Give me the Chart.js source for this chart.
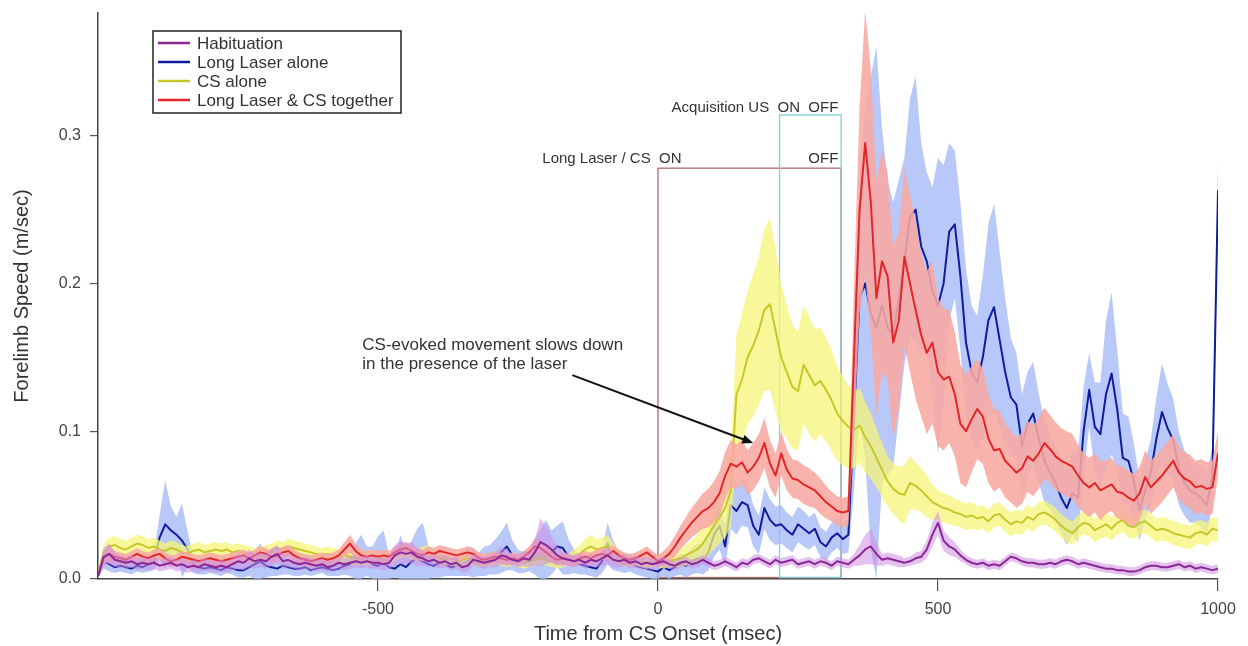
<!DOCTYPE html>
<html><head><meta charset="utf-8">
<script src="https://cdn.jsdelivr.net/npm/chart.js@4.4.1/dist/chart.umd.min.js"></script>
<style>html,body{margin:0;padding:0;background:#fff}#wrap{width:1248px;height:646px;position:relative}</style>
</head><body><div id="wrap"><canvas id="c"></canvas></div>
<script>
// ---------- DATA ----------
const seriesNames = ["Habituation", "Long Laser alone", "CS alone", "Long Laser & CS together"];
const xTickValues = [-500, 0, 500, 1000];
const yTickValues = [0, 0.1, 0.2, 0.3];
// sample times (msec), one sample every 10 ms from -1000 to 1000
const timeMs = [];
for (let t = -1000; t <= 1000; t += 10) timeMs.push(t);

const habituationMean = [
0.002,0.015,0.017,0.013,0.012,0.011,0.012,0.010,0.011,0.010,
0.011,0.009,0.010,0.011,0.009,0.010,0.008,0.009,0.008,0.010,
0.009,0.008,0.009,0.008,0.010,0.012,0.011,0.014,0.012,0.013,
0.012,0.015,0.017,0.012,0.013,0.011,0.010,0.011,0.010,0.009,
0.010,0.008,0.009,0.011,0.010,0.011,0.012,0.011,0.012,0.011,
0.011,0.010,0.011,0.016,0.018,0.017,0.018,0.015,0.014,0.012,
0.013,0.011,0.012,0.010,0.011,0.008,0.009,0.013,0.012,0.011,
0.012,0.013,0.016,0.015,0.013,0.012,0.014,0.013,0.018,0.025,
0.023,0.020,0.016,0.014,0.013,0.012,0.013,0.011,0.013,0.012,
0.014,0.016,0.013,0.012,0.013,0.011,0.012,0.010,0.011,0.010,
0.011,0.012,0.010,0.009,0.011,0.012,0.010,0.011,0.013,0.011,
0.009,0.010,0.012,0.010,0.008,0.011,0.010,0.013,0.014,0.012,
0.010,0.013,0.011,0.012,0.013,0.010,0.011,0.012,0.010,0.012,
0.011,0.009,0.012,0.011,0.010,0.013,0.016,0.020,0.022,0.017,
0.013,0.014,0.013,0.012,0.011,0.012,0.014,0.015,0.020,0.030,
0.038,0.026,0.022,0.020,0.016,0.013,0.011,0.010,0.011,0.009,
0.010,0.009,0.012,0.015,0.014,0.012,0.011,0.011,0.010,0.010,
0.011,0.010,0.012,0.013,0.012,0.010,0.011,0.010,0.009,0.008,
0.007,0.007,0.006,0.006,0.005,0.005,0.006,0.008,0.009,0.009,
0.008,0.008,0.009,0.010,0.008,0.009,0.007,0.008,0.007,0.006,
0.007];
const habituationSem = [
0.001,0.006,0.007,0.005,0.004,0.004,0.004,0.004,0.004,0.004,
0.004,0.004,0.004,0.004,0.004,0.004,0.004,0.004,0.004,0.004,
0.004,0.004,0.004,0.004,0.004,0.005,0.005,0.006,0.005,0.005,
0.005,0.006,0.006,0.005,0.005,0.004,0.004,0.004,0.004,0.004,
0.004,0.004,0.004,0.004,0.004,0.004,0.004,0.004,0.004,0.004,
0.004,0.004,0.004,0.007,0.008,0.007,0.007,0.006,0.005,0.004,
0.004,0.004,0.004,0.004,0.004,0.004,0.004,0.004,0.004,0.004,
0.004,0.005,0.006,0.005,0.004,0.004,0.005,0.005,0.009,0.016,
0.013,0.009,0.006,0.005,0.004,0.004,0.004,0.004,0.004,0.004,
0.005,0.006,0.005,0.004,0.004,0.004,0.004,0.004,0.004,0.004,
0.003,0.003,0.003,0.003,0.003,0.003,0.003,0.003,0.003,0.003,
0.003,0.003,0.003,0.003,0.003,0.003,0.003,0.003,0.003,0.003,
0.003,0.003,0.003,0.003,0.003,0.003,0.003,0.003,0.003,0.003,
0.003,0.003,0.003,0.003,0.003,0.004,0.007,0.010,0.012,0.008,
0.004,0.004,0.004,0.004,0.003,0.003,0.004,0.004,0.006,0.008,
0.008,0.007,0.006,0.005,0.004,0.003,0.003,0.003,0.003,0.003,
0.003,0.003,0.003,0.003,0.003,0.003,0.003,0.003,0.003,0.003,
0.003,0.003,0.003,0.003,0.003,0.003,0.003,0.003,0.003,0.003,
0.003,0.003,0.003,0.003,0.003,0.003,0.003,0.003,0.003,0.003,
0.003,0.003,0.003,0.003,0.003,0.003,0.003,0.003,0.003,0.003,
0.003];

const laserMean = [
0.002,0.012,0.010,0.008,0.009,0.008,0.007,0.009,0.008,0.010,
0.012,0.028,0.037,0.033,0.030,0.026,0.020,0.010,0.008,0.007,
0.008,0.007,0.006,0.008,0.007,0.006,0.006,0.008,0.010,0.012,
0.009,0.008,0.007,0.009,0.008,0.007,0.007,0.008,0.006,0.007,
0.008,0.007,0.006,0.007,0.009,0.010,0.012,0.014,0.012,0.010,
0.009,0.011,0.008,0.007,0.010,0.008,0.012,0.014,0.012,0.010,
0.009,0.011,0.010,0.008,0.009,0.010,0.012,0.011,0.010,0.012,
0.013,0.015,0.018,0.022,0.016,0.012,0.011,0.013,0.015,0.016,
0.015,0.018,0.022,0.021,0.015,0.012,0.010,0.009,0.008,0.007,
0.012,0.024,0.016,0.012,0.010,0.011,0.009,0.008,0.007,0.006,
0.005,0.008,0.006,0.008,0.010,0.009,0.012,0.014,0.013,0.018,
0.030,0.036,0.022,0.050,0.046,0.052,0.050,0.036,0.030,0.048,
0.040,0.036,0.037,0.033,0.030,0.037,0.034,0.031,0.034,0.025,
0.022,0.028,0.031,0.027,0.030,0.110,0.190,0.200,0.180,0.170,
0.185,0.170,0.165,0.190,0.215,0.245,0.250,0.225,0.215,0.195,
0.185,0.200,0.235,0.240,0.205,0.160,0.140,0.133,0.150,0.175,
0.184,0.162,0.140,0.123,0.118,0.090,0.105,0.112,0.095,0.080,
0.072,0.065,0.055,0.048,0.058,0.055,0.100,0.128,0.103,0.098,
0.125,0.139,0.115,0.082,0.080,0.066,0.046,0.060,0.072,0.095,
0.113,0.102,0.094,0.075,0.065,0.060,0.058,0.055,0.050,0.070,
0.263];
const laserSem = [
0.001,0.005,0.005,0.004,0.004,0.004,0.004,0.004,0.004,0.005,
0.006,0.015,0.030,0.016,0.012,0.025,0.012,0.006,0.005,0.004,
0.004,0.004,0.004,0.004,0.004,0.005,0.005,0.006,0.010,0.012,
0.008,0.006,0.005,0.006,0.005,0.005,0.005,0.005,0.004,0.004,
0.004,0.005,0.004,0.005,0.006,0.008,0.012,0.016,0.010,0.012,
0.020,0.022,0.008,0.006,0.020,0.010,0.014,0.020,0.026,0.012,
0.008,0.010,0.008,0.006,0.007,0.008,0.010,0.010,0.008,0.010,
0.010,0.012,0.014,0.016,0.010,0.008,0.007,0.008,0.012,0.018,
0.025,0.015,0.014,0.018,0.012,0.008,0.007,0.006,0.006,0.006,
0.008,0.014,0.010,0.007,0.006,0.006,0.006,0.006,0.006,0.006,
0.006,0.006,0.006,0.006,0.007,0.008,0.009,0.010,0.010,0.012,
0.015,0.016,0.014,0.016,0.016,0.016,0.015,0.014,0.013,0.014,
0.014,0.013,0.013,0.012,0.012,0.012,0.012,0.011,0.011,0.010,
0.010,0.010,0.010,0.010,0.012,0.050,0.080,0.120,0.160,0.190,
0.120,0.100,0.090,0.080,0.070,0.080,0.090,0.070,0.060,0.070,
0.100,0.080,0.060,0.050,0.050,0.050,0.045,0.045,0.055,0.065,
0.070,0.060,0.050,0.040,0.035,0.035,0.035,0.035,0.030,0.028,
0.025,0.025,0.025,0.025,0.028,0.030,0.030,0.025,0.030,0.035,
0.050,0.055,0.040,0.030,0.030,0.025,0.020,0.020,0.022,0.028,
0.033,0.030,0.028,0.025,0.022,0.022,0.020,0.020,0.020,0.020,
0.020];

const csMean = [
0.003,0.018,0.022,0.023,0.021,0.020,0.022,0.024,0.023,0.021,
0.022,0.020,0.019,0.021,0.020,0.018,0.017,0.019,0.020,0.018,
0.019,0.020,0.019,0.020,0.018,0.019,0.018,0.017,0.016,0.017,
0.018,0.019,0.021,0.020,0.022,0.021,0.020,0.019,0.018,0.017,
0.016,0.017,0.016,0.015,0.016,0.015,0.014,0.015,0.014,0.015,
0.014,0.013,0.014,0.016,0.018,0.019,0.017,0.016,0.018,0.019,
0.016,0.014,0.013,0.014,0.012,0.013,0.014,0.013,0.012,0.013,
0.012,0.014,0.013,0.012,0.013,0.012,0.011,0.012,0.013,0.014,
0.013,0.012,0.011,0.012,0.013,0.015,0.017,0.020,0.022,0.020,
0.021,0.022,0.018,0.015,0.013,0.012,0.013,0.012,0.011,0.012,
0.012,0.011,0.012,0.013,0.014,0.016,0.018,0.020,0.024,0.030,
0.036,0.042,0.048,0.060,0.125,0.135,0.150,0.158,0.168,0.182,
0.186,0.168,0.150,0.140,0.130,0.127,0.145,0.138,0.131,0.134,
0.128,0.121,0.112,0.107,0.103,0.101,0.104,0.096,0.090,0.082,
0.074,0.066,0.061,0.058,0.057,0.065,0.063,0.060,0.056,0.052,
0.050,0.048,0.047,0.045,0.044,0.042,0.043,0.041,0.042,0.039,
0.043,0.044,0.040,0.037,0.039,0.038,0.042,0.040,0.044,0.045,
0.043,0.040,0.036,0.033,0.031,0.035,0.038,0.037,0.033,0.035,
0.037,0.034,0.038,0.040,0.036,0.035,0.038,0.039,0.036,0.033,
0.034,0.033,0.031,0.030,0.029,0.028,0.031,0.032,0.030,0.034,
0.033];
const csSem = [
0.001,0.006,0.006,0.006,0.006,0.006,0.006,0.006,0.006,0.006,
0.006,0.006,0.005,0.005,0.005,0.005,0.005,0.005,0.005,0.005,
0.005,0.005,0.005,0.005,0.005,0.005,0.005,0.005,0.005,0.005,
0.005,0.005,0.005,0.005,0.005,0.005,0.005,0.005,0.005,0.005,
0.005,0.005,0.005,0.005,0.005,0.005,0.005,0.005,0.005,0.005,
0.004,0.004,0.004,0.004,0.004,0.004,0.004,0.004,0.004,0.004,
0.004,0.004,0.004,0.004,0.004,0.004,0.004,0.004,0.004,0.004,
0.004,0.004,0.004,0.004,0.004,0.004,0.004,0.004,0.004,0.004,
0.004,0.004,0.004,0.004,0.004,0.005,0.006,0.007,0.008,0.007,
0.007,0.008,0.006,0.005,0.004,0.004,0.004,0.004,0.004,0.004,
0.004,0.004,0.004,0.005,0.006,0.007,0.008,0.010,0.012,0.014,
0.016,0.018,0.020,0.025,0.040,0.045,0.045,0.048,0.050,0.055,
0.058,0.055,0.050,0.045,0.042,0.040,0.040,0.040,0.038,0.036,
0.035,0.034,0.032,0.030,0.028,0.026,0.025,0.024,0.022,0.020,
0.018,0.017,0.017,0.018,0.020,0.018,0.016,0.015,0.014,0.012,
0.010,0.010,0.010,0.009,0.009,0.009,0.009,0.008,0.008,0.008,
0.008,0.008,0.008,0.008,0.008,0.008,0.008,0.008,0.008,0.008,
0.008,0.008,0.008,0.008,0.008,0.008,0.008,0.008,0.008,0.008,
0.008,0.008,0.008,0.008,0.008,0.008,0.008,0.008,0.008,0.008,
0.008,0.008,0.008,0.008,0.008,0.008,0.008,0.008,0.008,0.008,
0.008];

const togetherMean = [
0.002,0.014,0.017,0.015,0.014,0.013,0.015,0.017,0.015,0.014,
0.016,0.017,0.014,0.012,0.013,0.015,0.014,0.013,0.012,0.013,
0.014,0.013,0.012,0.013,0.014,0.015,0.016,0.014,0.016,0.018,
0.017,0.015,0.016,0.018,0.019,0.016,0.014,0.013,0.012,0.013,
0.014,0.013,0.014,0.016,0.020,0.024,0.019,0.016,0.015,0.016,
0.015,0.016,0.015,0.018,0.020,0.021,0.019,0.017,0.016,0.018,
0.017,0.019,0.018,0.017,0.016,0.017,0.018,0.017,0.014,0.013,
0.014,0.015,0.014,0.013,0.014,0.013,0.015,0.018,0.022,0.021,
0.018,0.015,0.013,0.014,0.013,0.012,0.014,0.015,0.014,0.016,
0.017,0.016,0.019,0.016,0.014,0.013,0.014,0.016,0.018,0.015,
0.012,0.014,0.017,0.022,0.028,0.033,0.038,0.042,0.046,0.048,
0.052,0.058,0.070,0.078,0.076,0.079,0.072,0.076,0.082,0.092,
0.078,0.070,0.085,0.074,0.068,0.067,0.064,0.062,0.060,0.056,
0.052,0.049,0.046,0.045,0.046,0.150,0.250,0.295,0.255,0.190,
0.215,0.205,0.160,0.175,0.218,0.200,0.182,0.165,0.153,0.160,
0.140,0.135,0.137,0.125,0.105,0.100,0.108,0.115,0.110,0.095,
0.087,0.088,0.080,0.076,0.072,0.075,0.083,0.080,0.085,0.092,
0.088,0.083,0.080,0.078,0.076,0.070,0.065,0.062,0.065,0.060,
0.062,0.064,0.059,0.058,0.055,0.053,0.058,0.069,0.062,0.066,
0.070,0.075,0.080,0.072,0.068,0.066,0.062,0.063,0.061,0.062,
0.085];
const togetherSem = [
0.001,0.004,0.005,0.004,0.004,0.004,0.004,0.004,0.004,0.004,
0.004,0.004,0.004,0.004,0.004,0.004,0.004,0.004,0.004,0.004,
0.004,0.004,0.004,0.004,0.004,0.004,0.004,0.004,0.004,0.004,
0.004,0.004,0.004,0.004,0.004,0.004,0.004,0.004,0.004,0.004,
0.004,0.004,0.004,0.004,0.005,0.006,0.005,0.004,0.004,0.004,
0.004,0.004,0.004,0.004,0.004,0.004,0.004,0.004,0.004,0.004,
0.004,0.004,0.004,0.004,0.004,0.004,0.004,0.004,0.004,0.004,
0.004,0.004,0.004,0.004,0.004,0.004,0.004,0.004,0.005,0.005,
0.004,0.004,0.004,0.004,0.004,0.004,0.004,0.004,0.004,0.004,
0.004,0.004,0.004,0.004,0.004,0.004,0.004,0.004,0.004,0.004,
0.004,0.005,0.006,0.007,0.008,0.009,0.010,0.011,0.012,0.013,
0.014,0.015,0.016,0.016,0.015,0.015,0.015,0.016,0.016,0.017,
0.016,0.015,0.015,0.014,0.013,0.013,0.013,0.013,0.012,0.012,
0.011,0.010,0.010,0.010,0.010,0.050,0.070,0.090,0.090,0.080,
0.075,0.070,0.065,0.060,0.060,0.060,0.060,0.055,0.055,0.055,
0.050,0.048,0.045,0.042,0.040,0.038,0.036,0.034,0.032,0.030,
0.028,0.026,0.025,0.024,0.024,0.024,0.024,0.024,0.024,0.024,
0.023,0.023,0.022,0.022,0.022,0.021,0.020,0.020,0.020,0.020,
0.018,0.018,0.018,0.018,0.018,0.018,0.018,0.018,0.018,0.018,
0.018,0.018,0.018,0.018,0.018,0.018,0.018,0.018,0.018,0.018,
0.015];

// annotation values (data units)
const laserCsWindow = [0, 327];        // Long Laser / CS ON..OFF (msec)
const laserCsBoxTop = 0.278;
const usWindow = [217, 327];           // Acquisition US ON..OFF (msec)
const usBoxTop = 0.314;

// ---------- CHART ----------
[habituationMean,habituationSem,laserMean,laserSem,csMean,csSem,togetherMean,togetherSem].forEach((a,i)=>{
  if (a.length !== timeMs.length) throw new Error('length mismatch in array ' + i + ': ' + a.length);
});

const FONT = "'Liberation Sans', Arial, Helvetica, sans-serif";
Chart.defaults.font.family = FONT;

function pts(arr){ return arr.map((v,i)=>({x: timeMs[i], y: v})); }
function upper(m,s){ return pts(m.map((v,i)=>v + s[i])); }
function lower(m,s){ return pts(m.map((v,i)=>Math.max(0, v - s[i]))); }

const styles = {
  hab:   {line:'#8a2896', band:'rgba(205,140,225,0.55)'},
  laser: {line:'#101c9e', band:'rgba(160,182,245,0.75)'},
  cs:    {line:'#c6c82a', band:'rgba(245,246,120,0.75)'},
  tog:   {line:'#e2262a', band:'rgba(248,168,162,0.88)'}
};

function bandSets(mean, sem, st, ord){
  return [
    {data: upper(mean, sem), fill: '+1', backgroundColor: st.band, borderWidth: 0, pointRadius: 0, order: ord},
    {data: lower(mean, sem), fill: false, borderWidth: 0, pointRadius: 0, order: ord}
  ];
}
function lineSet(label, mean, st, ord){
  return {label, data: pts(mean), borderColor: st.line, borderWidth: 2, pointRadius: 0, fill: false, order: ord, borderJoinStyle: 'round'};
}

const datasets = [
  ...bandSets(laserMean, laserSem, styles.laser, 12),
  lineSet(seriesNames[1], laserMean, styles.laser, 11),
  ...bandSets(csMean, csSem, styles.cs, 10),
  lineSet(seriesNames[2], csMean, styles.cs, 9),
  ...bandSets(togetherMean, togetherSem, styles.tog, 8),
  lineSet(seriesNames[3], togetherMean, styles.tog, 7),
  ...bandSets(habituationMean, habituationSem, styles.hab, 6),
  lineSet(seriesNames[0], habituationMean, styles.hab, 5)
];

const legendItems = [
  {label: seriesNames[0], color: styles.hab.line},
  {label: seriesNames[1], color: styles.laser.line},
  {label: seriesNames[2], color: styles.cs.line},
  {label: seriesNames[3], color: styles.tog.line}
];

const annot = {
  id: 'annot',
  beforeDatasetsDraw(chart){
    const {ctx, scales:{x,y}} = chart;
    ctx.save();
    ctx.lineWidth = 1.3;
    ctx.strokeStyle = '#b06a6a';
    let x0 = x.getPixelForValue(laserCsWindow[0]), x1 = x.getPixelForValue(laserCsWindow[1]);
    let yt = y.getPixelForValue(laserCsBoxTop), yb = y.getPixelForValue(0.001);
    ctx.strokeRect(x0, yt, x1 - x0, yb - yt);
    ctx.strokeStyle = '#7fcfd8';
    x0 = x.getPixelForValue(usWindow[0]); x1 = x.getPixelForValue(usWindow[1]);
    yt = y.getPixelForValue(usBoxTop);
    ctx.strokeRect(x0, yt, x1 - x0, yb - yt);
    ctx.restore();
  },
  afterDatasetsDraw(chart){
    const {ctx, chartArea, scales:{x,y}} = chart;
    ctx.save();
    ctx.fillStyle = '#333';
    ctx.textBaseline = 'middle';
    ctx.font = '15px ' + FONT;
    ctx.textAlign = 'right';
    ctx.fillText('Acquisition US  ON  OFF', x.getPixelForValue(322), y.getPixelForValue(0.319));
    ctx.fillText('Long Laser / CS  ON', x.getPixelForValue(42), y.getPixelForValue(0.284));
    ctx.fillText('OFF', x.getPixelForValue(322), y.getPixelForValue(0.284));
    ctx.textAlign = 'left';
    ctx.font = '17px ' + FONT;
    ctx.fillText('CS-evoked movement slows down', x.getPixelForValue(-528), y.getPixelForValue(0.158));
    ctx.fillText('in the presence of the laser', x.getPixelForValue(-528), y.getPixelForValue(0.145));
    // arrow
    const ax0 = x.getPixelForValue(-153), ay0 = y.getPixelForValue(0.138);
    const ax1 = x.getPixelForValue(170), ay1 = y.getPixelForValue(0.092);
    const ang = Math.atan2(ay1 - ay0, ax1 - ax0);
    ctx.strokeStyle = '#111'; ctx.fillStyle = '#111'; ctx.lineWidth = 2;
    ctx.beginPath(); ctx.moveTo(ax0, ay0);
    ctx.lineTo(ax1 - 8*Math.cos(ang), ay1 - 8*Math.sin(ang)); ctx.stroke();
    ctx.beginPath();
    ctx.moveTo(ax1, ay1);
    ctx.lineTo(ax1 - 11*Math.cos(ang) + 4.5*Math.sin(ang), ay1 - 11*Math.sin(ang) - 4.5*Math.cos(ang));
    ctx.lineTo(ax1 - 11*Math.cos(ang) - 4.5*Math.sin(ang), ay1 - 11*Math.sin(ang) + 4.5*Math.cos(ang));
    ctx.closePath(); ctx.fill();
    // legend
    const lx = chartArea.left + 55, ly = chartArea.top + 18;
    ctx.fillStyle = '#fff';
    ctx.fillRect(lx, ly, 248, 82);
    ctx.strokeStyle = '#222'; ctx.lineWidth = 1.5;
    ctx.strokeRect(lx, ly, 248, 82);
    ctx.font = '17px ' + FONT;
    ctx.textAlign = 'left';
    legendItems.forEach((it, i) => {
      const ry = ly + 12 + i * 19;
      ctx.strokeStyle = it.color; ctx.lineWidth = 2.5;
      ctx.beginPath(); ctx.moveTo(lx + 5, ry); ctx.lineTo(lx + 37, ry); ctx.stroke();
      ctx.fillStyle = '#333';
      ctx.fillText(it.label, lx + 44, ry + 1);
    });
    ctx.restore();
  }
};

new Chart(document.getElementById('c'), {
  type: 'line',
  data: {datasets},
  options: {
    responsive: true, maintainAspectRatio: false, animation: false,
    layout: {padding: {left: 0, right: 30, top: 13, bottom: 0}},
    plugins: {legend: {display: false}, tooltip: {enabled: false}},
    elements: {line: {tension: 0}},
    scales: {
      x: {
        type: 'linear', min: -1000, max: 1000,
        afterBuildTicks: s => { s.ticks = xTickValues.map(v => ({value: v})); },
        afterFit: s => { s.height = 67; s.paddingLeft = 0; s.paddingRight = 0; },
        ticks: {color: '#444', font: {size: 16}, padding: 9, maxRotation: 0, callback: v => String(v)},
        grid: {drawOnChartArea: false, drawTicks: true, tickLength: 12, color: '#555', lineWidth: 1.2},
        border: {display: true, color: '#444', width: 1.5},
        title: {display: true, text: 'Time from CS Onset (msec)', color: '#333', font: {size: 20}, padding: {top: 0, bottom: 0}}
      },
      y: {
        type: 'linear', min: 0, max: 0.383,
        afterBuildTicks: s => { s.ticks = yTickValues.map(v => ({value: v})); },
        afterFit: s => { s.width = 98; s.paddingTop = 0; s.paddingBottom = 0; },
        ticks: {color: '#444', font: {size: 16}, padding: 9, callback: v => Number(v).toFixed(1)},
        grid: {drawOnChartArea: false, drawTicks: true, tickLength: 8, color: '#555', lineWidth: 1.2},
        border: {display: true, color: '#444', width: 1.5},
        title: {display: true, text: 'Forelimb Speed (m/sec)', color: '#333', font: {size: 20}, padding: {top: 10, bottom: 0}}
      }
    }
  },
  plugins: [annot]
});
</script>
</body></html>
